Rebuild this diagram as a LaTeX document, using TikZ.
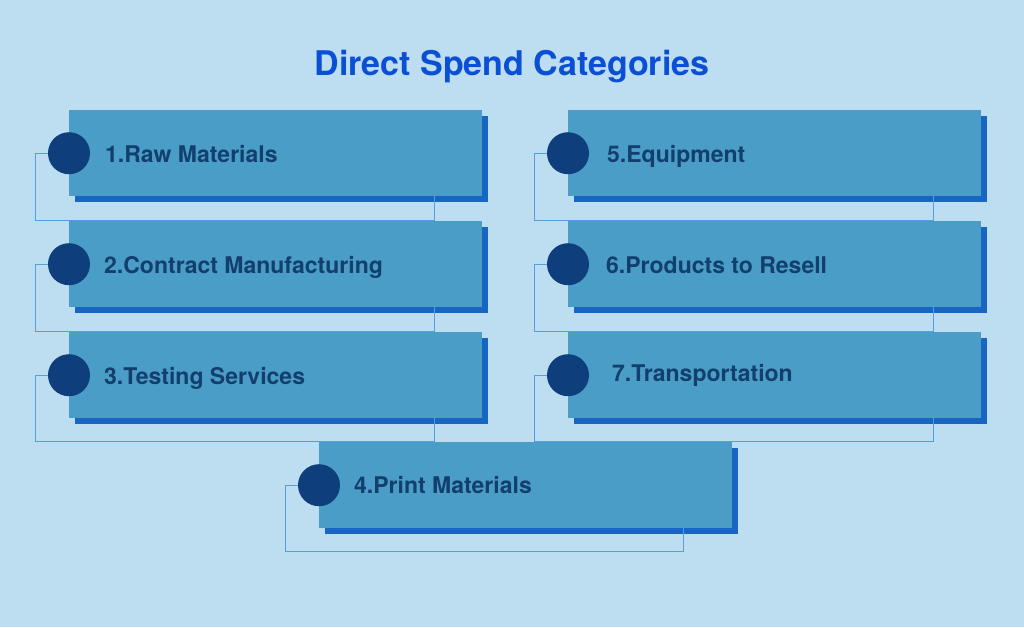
\documentclass[tikz,border=0pt]{standalone}
\usepackage{fontspec}
\setmainfont{TeX Gyre Heros}
\usetikzlibrary{shadows}
\definecolor{pagebg}{HTML}{BDDDF1}
\definecolor{boxfill}{HTML}{4A9DC7}
\definecolor{boxshade}{HTML}{1766C2}
\definecolor{dotblue}{HTML}{0E3F7C}
\definecolor{labelblue}{HTML}{123F6E}
\definecolor{titleblue}{HTML}{0B4FD4}
\definecolor{wireblue}{HTML}{559FDC}
\begin{document}
\begin{tikzpicture}[x=1pt,y=-1pt]
      % Define styles for nodes
      \tikzstyle{category} = [anchor=north west, rectangle, fill=boxfill,
      minimum width=413pt, minimum height=86pt, inner sep=0pt,
      drop shadow={fill=boxshade, opacity=1, shadow xshift=6pt, shadow yshift=-6pt}]
      \tikzstyle{dot} = [circle, fill=dotblue, minimum size=42pt, inner sep=0pt]
      \tikzstyle{label} = [anchor=base west, inner sep=0pt, text=labelblue,
      font=\fontsize{23}{27}\selectfont\bfseries]
      \tikzstyle{link} = [draw=wireblue, line width=1pt]

      % Background
      \fill[pagebg] (0,0) rectangle (1024,627);
      \useasboundingbox (0,0) rectangle (1024,627);

      % Title
      \node[anchor=base, inner sep=0pt, text=titleblue,
      font=\fontsize{34}{39}\selectfont\bfseries] (title) at (512,75) {Direct Spend Categories};

      % Corners of the connections
      \coordinate (k1) at (434,220);
      \coordinate (k2) at (434,331);
      \coordinate (k3) at (434,441);
      \coordinate (k5) at (933,220);
      \coordinate (k6) at (933,331);
      \coordinate (k7) at (933,441);
      \coordinate (k4) at (683,551);

      % Boxes in the left column
      \node[category] (b1) at (69,110) {};
      \node[category] (b2) at (69,221) {};
      \node[category] (b3) at (69,332) {};

      % Boxes in the right column
      \node[category] (b5) at (568,110) {};
      \node[category] (b6) at (568,221) {};
      \node[category] (b7) at (568,332) {};

      % Box at the bottom
      \node[category] (b4) at (319,442) {};

      % Dots on the boxes
      \node[dot] (d1) at (b1.west) {};
      \node[dot] (d2) at (b2.west) {};
      \node[dot] (d3) at (b3.west) {};
      \node[dot] (d5) at (b5.west) {};
      \node[dot] (d6) at (b6.west) {};
      \node[dot] (d7) at (b7.west) {};
      \node[dot] (d4) at (b4.west) {};

      % Connections
      \draw[link] (d1.west) -- ++(-12,0) |- (k1) -- (b1.south -| k1);
      \draw[link] (d2.west) -- ++(-12,0) |- (k2) -- (b2.south -| k2);
      \draw[link] (d3.west) -- ++(-12,0) |- (k3) -- (b3.south -| k3);
      \draw[link] (d5.west) -- ++(-12,0) |- (k5) -- (b5.south -| k5);
      \draw[link] (d6.west) -- ++(-12,0) |- (k6) -- (b6.south -| k6);
      \draw[link] (d7.west) -- ++(-12,0) |- (k7) -- (b7.south -| k7);
      \draw[link] (d4.west) -- ++(-12,0) |- (k4) -- (b4.south -| k4);

      % Labels
      \node[label] (t1) at ([xshift=36pt,yshift=-9pt]b1.west) {1.Raw Materials};
      \node[label] (t2) at ([xshift=35pt,yshift=-9pt]b2.west) {2.Contract Manufacturing};
      \node[label] (t3) at ([xshift=35pt,yshift=-9pt]b3.west) {3.Testing Services};
      \node[label] (t5) at ([xshift=39pt,yshift=-9pt]b5.west) {5.Equipment};
      \node[label] (t6) at ([xshift=38pt,yshift=-9pt]b6.west) {6.Products to Resell};
      \node[label] (t7) at ([xshift=44pt,yshift=-6pt]b7.west) {7.Transportation};
      \node[label] (t4) at ([xshift=35pt,yshift=-8pt]b4.west) {4.Print Materials};
\end{tikzpicture}
\end{document}
